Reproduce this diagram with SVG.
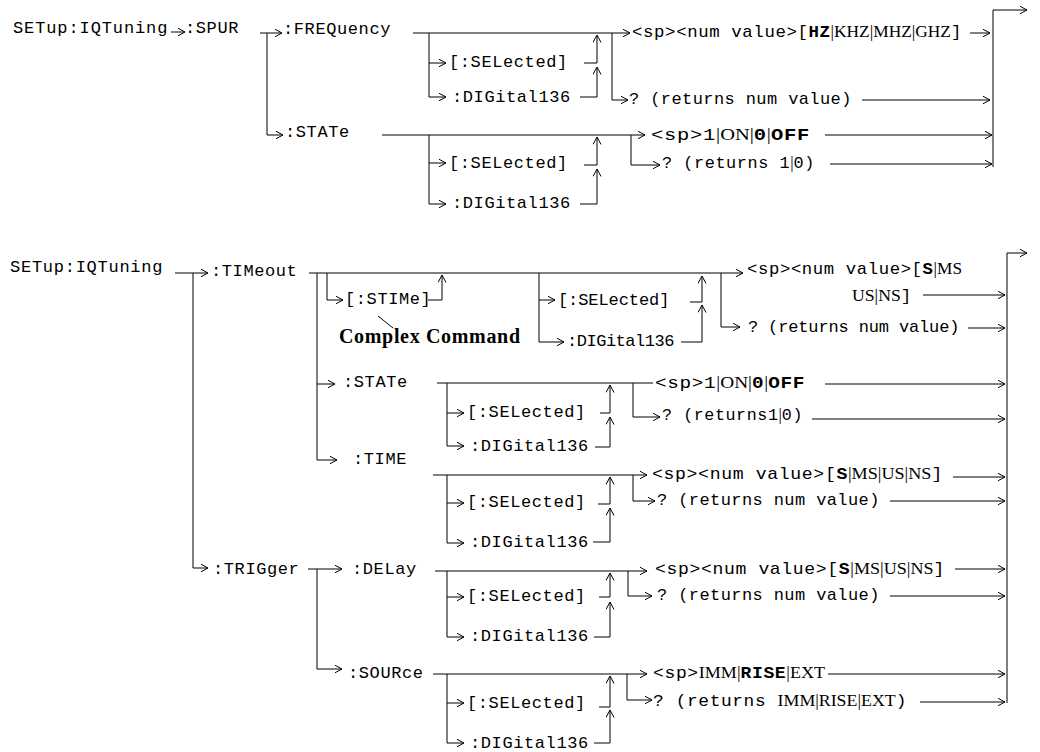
<svg xmlns="http://www.w3.org/2000/svg" width="1040" height="752" viewBox="0 0 1040 752">
<defs>
<style>
.t{font-family:"Liberation Mono","Courier New",monospace;font-size:17px;letter-spacing:0.6px;fill:#000}
.s{font-family:"Liberation Serif","Times New Roman",serif;letter-spacing:0}
.b{font-weight:bold}
.cc{font-family:"Liberation Serif","Times New Roman",serif;font-size:20px;font-weight:bold;fill:#000}
.c path{stroke:#000;stroke-width:1;fill:none}
.c .a{marker-end:url(#ah)}
</style>
<marker id="ah" markerWidth="10" markerHeight="10" refX="7.5" refY="4" orient="auto" markerUnits="userSpaceOnUse"><path d="M0,0 L7.5,4 L0,8" fill="none" stroke="#000" stroke-width="1"/></marker>
</defs>
<rect width="1040" height="752" fill="#fff"/>

<g id="connectors" class="c">
<!-- top section -->
<path class="a" d="M171,32 H185"/>
<path class="a" d="M260,33 H282"/>
<path class="a" d="M267,33 V135 H283"/>
<!-- FREQuency block -->
<path class="a" d="M413,33 H630"/>
<path d="M429,33 V97"/>
<path class="a" d="M429,63 H446"/>
<path class="a" d="M429,97 H446"/>
<path d="M584,63 H597"/>
<path class="a" d="M597,63 V35"/>
<path class="a" d="M580,97 H597 V67"/>
<path class="a" d="M612,33 V100 H628"/>
<path class="a" d="M970,33 H990"/>
<path class="a" d="M862,100 H990"/>
<!-- top STATe block -->
<path class="a" d="M382,135 H645"/>
<path d="M429,135 V204"/>
<path class="a" d="M429,163 H446"/>
<path class="a" d="M429,204 H446"/>
<path d="M584,165 H597"/>
<path class="a" d="M597,165 V137"/>
<path class="a" d="M580,204 H597 V169"/>
<path class="a" d="M631,135 V165 H660"/>
<path class="a" d="M825,135 H992"/>
<path class="a" d="M830,164 H992"/>
<path d="M993,167 V10"/>
<path class="a" d="M993,10 H1027"/>

<!-- second section -->
<path class="a" d="M175,273 H208"/>
<path class="a" d="M193,273 V568 H208"/>
<!-- TIMeout block -->
<path class="a" d="M309,273 H743"/>
<path d="M317,273 V460"/>
<path class="a" d="M327,273 V300 H343"/>
<path class="a" d="M428,300 H442 V275"/>
<path d="M378,316 L393,328"/>
<path d="M539,273 V342"/>
<path class="a" d="M539,300 H555"/>
<path class="a" d="M539,342 H564"/>
<path d="M690,302 H702"/>
<path class="a" d="M702,302 V276"/>
<path class="a" d="M681,342 H702 V305"/>
<path class="a" d="M721,273 V327 H740"/>
<path class="a" d="M923,295 H1005"/>
<path class="a" d="M968,328 H1005"/>
<!-- STATe -->
<path class="a" d="M317,384 H335"/>
<path d="M437,383 H653"/>
<path d="M447,383 V446"/>
<path class="a" d="M447,413 H464"/>
<path class="a" d="M447,446 H464"/>
<path d="M600,413 H610"/>
<path class="a" d="M610,413 V385"/>
<path class="a" d="M595,447 H610 V417"/>
<path class="a" d="M633,383 V417 H660"/>
<path class="a" d="M825,384 H1005"/>
<path class="a" d="M812,419 H1005"/>
<!-- TIME -->
<path class="a" d="M317,460 H337"/>
<path class="a" d="M433,475 H647"/>
<path d="M447,475 V543"/>
<path class="a" d="M447,503 H464"/>
<path class="a" d="M447,543 H464"/>
<path d="M598,504 H610"/>
<path class="a" d="M610,504 V477"/>
<path class="a" d="M593,542 H610 V508"/>
<path class="a" d="M633,475 V501 H655"/>
<path class="a" d="M953,477 H1005"/>
<path class="a" d="M890,501 H1005"/>
<!-- TRIGger -->
<path class="a" d="M308,569 H342"/>
<path class="a" d="M317,569 V669 H342"/>
<!-- DELay -->
<path class="a" d="M435,571 H647"/>
<path d="M447,571 V637"/>
<path class="a" d="M447,597 H464"/>
<path class="a" d="M447,637 H464"/>
<path d="M599,597 H610"/>
<path class="a" d="M610,597 V573"/>
<path class="a" d="M594,637 H610 V602"/>
<path class="a" d="M628,571 V596 H652"/>
<path class="a" d="M955,569 H1005"/>
<path class="a" d="M890,596 H1005"/>
<!-- SOURce -->
<path class="a" d="M433,674 H647"/>
<path d="M447,674 V743"/>
<path class="a" d="M447,703 H464"/>
<path class="a" d="M447,743 H464"/>
<path d="M599,707 H610"/>
<path class="a" d="M610,707 V676"/>
<path class="a" d="M594,743 H610 V710"/>
<path class="a" d="M627,674 V700 H652"/>
<path class="a" d="M828,674 H1005"/>
<path class="a" d="M920,702 H1005"/>
<path d="M1007,703 V253"/>
<path class="a" d="M1007,253 H1027"/>
</g>

<!-- top section nodes -->
<g id="root1"><text class="t" x="13" y="33" textLength="155">SETup:IQTuning</text></g>
<g id="spur"><text class="t" x="185" y="33">:SPUR</text></g>
<g id="freq"><text class="t" x="283" y="34">:FREQuency</text></g>
<g id="freq-sel"><text class="t" x="449" y="67">[:SELected]</text></g>
<g id="freq-dig"><text class="t" x="452" y="102">:DIGital136</text></g>
<g id="freq-val"><text class="t" x="632" y="37" textLength="330" lengthAdjust="spacingAndGlyphs">&lt;sp&gt;&lt;num value&gt;[<tspan class="b">HZ</tspan><tspan class="s">|KHZ|MHZ|GHZ</tspan>]</text></g>
<g id="freq-q"><text class="t" x="629" y="104" textLength="223">? (returns num value)</text></g>
<g id="state1"><text class="t" x="285" y="137">:STATe</text></g>
<g id="state1-sel"><text class="t" x="449" y="168">[:SELected]</text></g>
<g id="state1-dig"><text class="t" x="452" y="208">:DIGital136</text></g>
<g id="state1-val"><text class="t" x="651" y="140" textLength="159" lengthAdjust="spacingAndGlyphs">&lt;sp&gt;1<tspan class="s">|ON|</tspan><tspan class="b">0</tspan><tspan class="s">|</tspan><tspan class="b">OFF</tspan></text></g>
<g id="state1-q"><text class="t" x="662" y="168" textLength="153" lengthAdjust="spacingAndGlyphs">? (returns 1<tspan class="s">|</tspan>0)</text></g>

<!-- second section nodes -->
<g id="root2"><text class="t" x="10" y="272" textLength="153">SETup:IQTuning</text></g>
<g id="timeout"><text class="t" x="211" y="276">:TIMeout</text></g>
<g id="stime"><text class="t" x="345" y="304">[:STIMe]</text></g>
<g id="complex"><text class="cc" x="339" y="343" textLength="181">Complex Command</text></g>
<g id="timeout-sel"><text class="t" x="558" y="305" textLength="112">[:SELected]</text></g>
<g id="timeout-dig"><text class="t" x="567" y="346" textLength="108">:DIGital136</text></g>
<g id="timeout-val"><text class="t" x="747" y="274" textLength="215" lengthAdjust="spacingAndGlyphs">&lt;sp&gt;&lt;num value&gt;[<tspan class="b">S</tspan><tspan class="s">|MS</tspan></text><text class="t" x="852" y="301" textLength="60" lengthAdjust="spacingAndGlyphs"><tspan class="s">US|NS</tspan>]</text></g>
<g id="timeout-q"><text class="t" x="748" y="332" textLength="212">? (returns num value)</text></g>

<g id="state2"><text class="t" x="343" y="387">:STATe</text></g>
<g id="state2-sel"><text class="t" x="467" y="417">[:SELected]</text></g>
<g id="state2-dig"><text class="t" x="470" y="451">:DIGital136</text></g>
<g id="state2-val"><text class="t" x="655" y="388" textLength="150" lengthAdjust="spacingAndGlyphs">&lt;sp&gt;1<tspan class="s">|ON|</tspan><tspan class="b">0</tspan><tspan class="s">|</tspan><tspan class="b">OFF</tspan></text></g>
<g id="state2-q"><text class="t" x="662" y="420" textLength="141" lengthAdjust="spacingAndGlyphs">? (returns1<tspan class="s">|</tspan>0)</text></g>

<g id="time"><text class="t" x="353" y="464">:TIME</text></g>
<g id="time-sel"><text class="t" x="467" y="507">[:SELected]</text></g>
<g id="time-dig"><text class="t" x="470" y="547">:DIGital136</text></g>
<g id="time-val"><text class="t" x="652" y="479" textLength="291" lengthAdjust="spacingAndGlyphs">&lt;sp&gt;&lt;num value&gt;[<tspan class="b">S</tspan><tspan class="s">|MS|US|NS</tspan>]</text></g>
<g id="time-q"><text class="t" x="657" y="505" textLength="223">? (returns num value)</text></g>

<g id="trigger"><text class="t" x="213" y="574">:TRIGger</text></g>
<g id="delay"><text class="t" x="352" y="574">:DELay</text></g>
<g id="delay-sel"><text class="t" x="467" y="601">[:SELected]</text></g>
<g id="delay-dig"><text class="t" x="470" y="641">:DIGital136</text></g>
<g id="delay-val"><text class="t" x="655" y="574" textLength="290" lengthAdjust="spacingAndGlyphs">&lt;sp&gt;&lt;num value&gt;[<tspan class="b">S</tspan><tspan class="s">|MS|US|NS</tspan>]</text></g>
<g id="delay-q"><text class="t" x="657" y="600" textLength="223">? (returns num value)</text></g>

<g id="source"><text class="t" x="348" y="678">:SOURce</text></g>
<g id="source-sel"><text class="t" x="467" y="708">[:SELected]</text></g>
<g id="source-dig"><text class="t" x="470" y="748">:DIGital136</text></g>
<g id="source-val"><text class="t" x="653" y="678" textLength="172" lengthAdjust="spacingAndGlyphs">&lt;sp&gt;<tspan class="s">IMM|</tspan><tspan class="b">RISE</tspan><tspan class="s">|EXT</tspan></text></g>
<g id="source-q"><text class="t" x="653" y="706" textLength="254" lengthAdjust="spacingAndGlyphs">? (returns <tspan class="s">IMM|RISE|EXT</tspan>)</text></g>
</svg>
